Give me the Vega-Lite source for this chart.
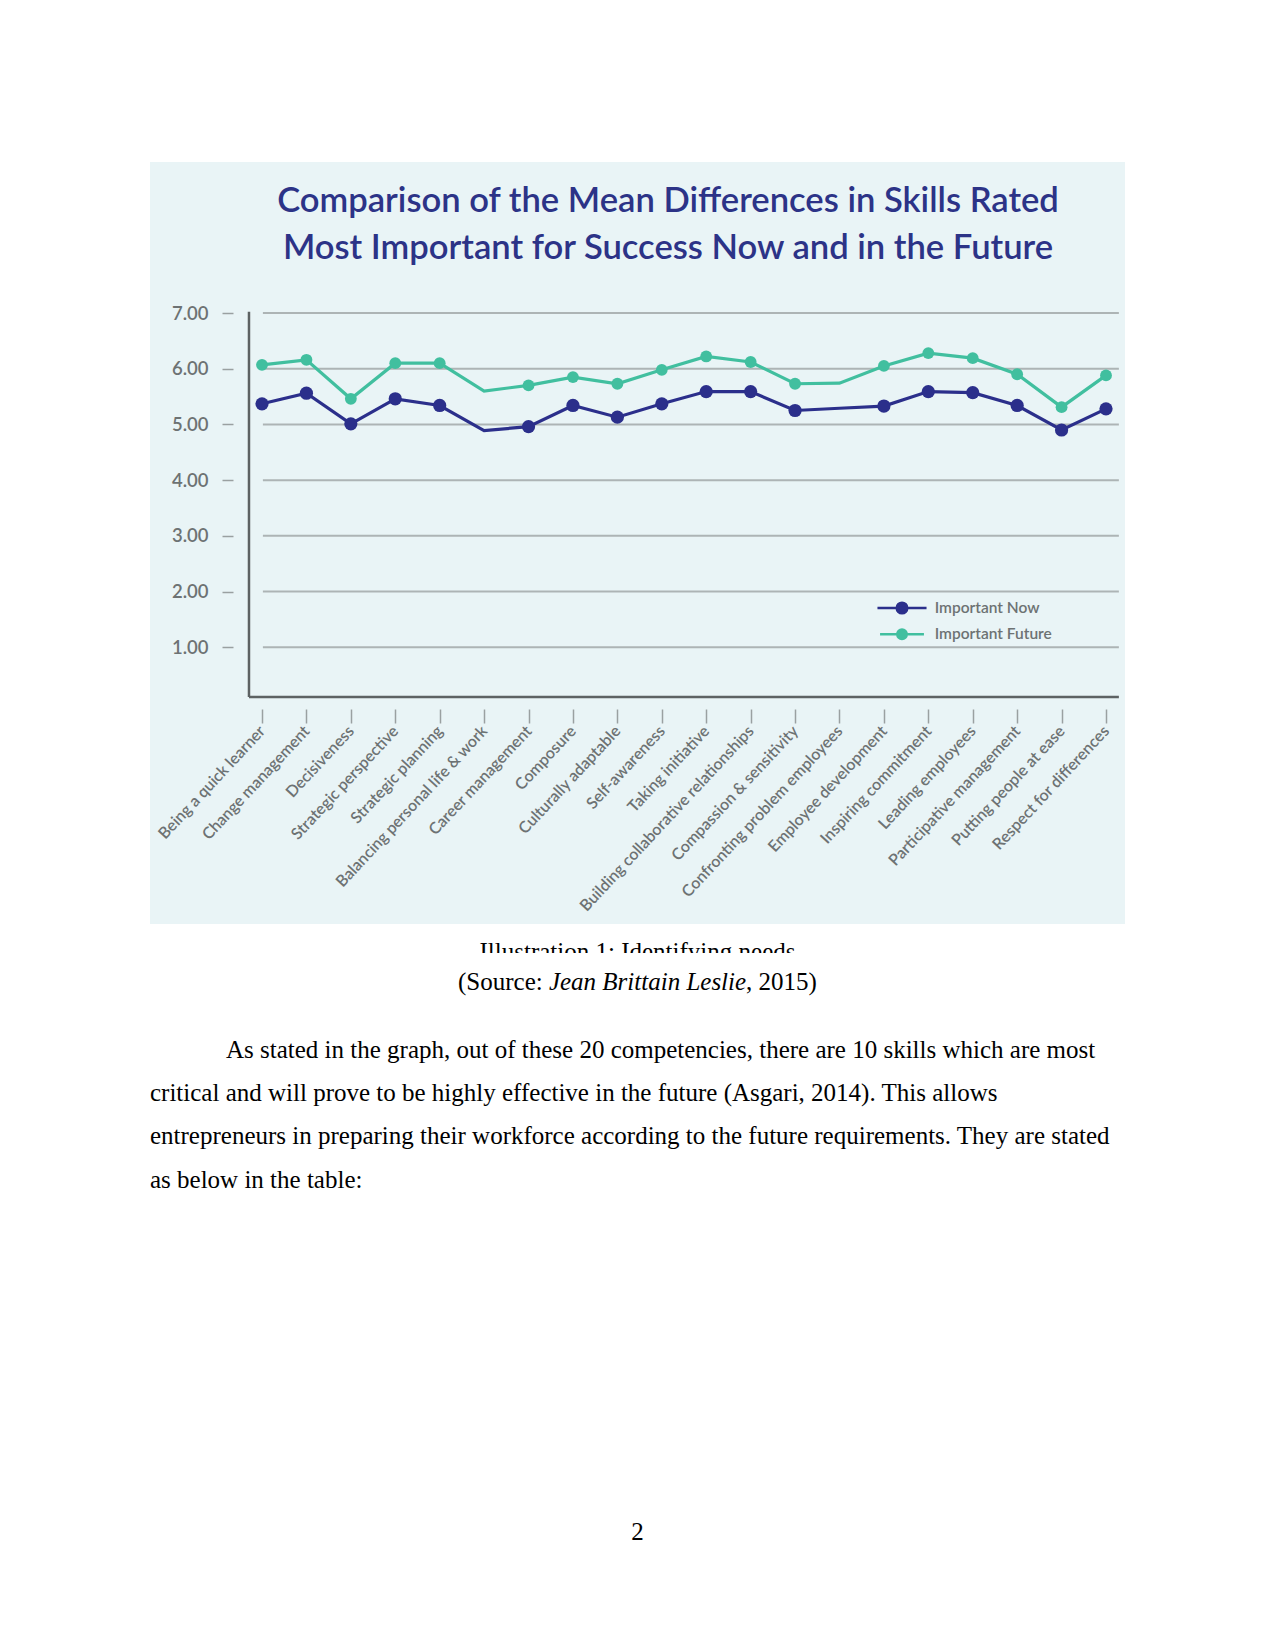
{
  "$schema": "https://vega.github.io/schema/vega-lite/v6.json",
  "background": "white",
  "padding": {"left": 150, "top": 162, "right": 0, "bottom": 0},
  "autosize": {"type": "pad"},
  "bounds": "flush",
  "spacing": 0,
  "config": {"view": {"stroke": null}},
  "datasets": {
    "grid": [{"v": 1}, {"v": 2}, {"v": 3}, {"v": 4}, {"v": 5}, {"v": 6}, {"v": 7}],
    "frame": [{"part": "axis"}],
    "skills": [
      {"skill": "Being a quick learner", "series": "Important Now", "value": 5.37},
      {"skill": "Being a quick learner", "series": "Important Future", "value": 6.07},
      {"skill": "Change management", "series": "Important Now", "value": 5.56},
      {"skill": "Change management", "series": "Important Future", "value": 6.16},
      {"skill": "Decisiveness", "series": "Important Now", "value": 5.01},
      {"skill": "Decisiveness", "series": "Important Future", "value": 5.46},
      {"skill": "Strategic perspective", "series": "Important Now", "value": 5.46},
      {"skill": "Strategic perspective", "series": "Important Future", "value": 6.10},
      {"skill": "Strategic planning", "series": "Important Now", "value": 5.34},
      {"skill": "Strategic planning", "series": "Important Future", "value": 6.10},
      {"skill": "Balancing personal life & work", "series": "Important Now", "value": 4.89},
      {"skill": "Balancing personal life & work", "series": "Important Future", "value": 5.60},
      {"skill": "Career management", "series": "Important Now", "value": 4.96},
      {"skill": "Career management", "series": "Important Future", "value": 5.70},
      {"skill": "Composure", "series": "Important Now", "value": 5.34},
      {"skill": "Composure", "series": "Important Future", "value": 5.85},
      {"skill": "Culturally adaptable", "series": "Important Now", "value": 5.13},
      {"skill": "Culturally adaptable", "series": "Important Future", "value": 5.73},
      {"skill": "Self-awareness", "series": "Important Now", "value": 5.37},
      {"skill": "Self-awareness", "series": "Important Future", "value": 5.98},
      {"skill": "Taking initiative", "series": "Important Now", "value": 5.59},
      {"skill": "Taking initiative", "series": "Important Future", "value": 6.22},
      {"skill": "Building collaborative relationships", "series": "Important Now", "value": 5.59},
      {"skill": "Building collaborative relationships", "series": "Important Future", "value": 6.12},
      {"skill": "Compassion & sensitivity", "series": "Important Now", "value": 5.25},
      {"skill": "Compassion & sensitivity", "series": "Important Future", "value": 5.73},
      {"skill": "Confronting problem employees", "series": "Important Now", "value": 5.29},
      {"skill": "Confronting problem employees", "series": "Important Future", "value": 5.74},
      {"skill": "Employee development", "series": "Important Now", "value": 5.33},
      {"skill": "Employee development", "series": "Important Future", "value": 6.05},
      {"skill": "Inspiring commitment", "series": "Important Now", "value": 5.59},
      {"skill": "Inspiring commitment", "series": "Important Future", "value": 6.28},
      {"skill": "Leading employees", "series": "Important Now", "value": 5.57},
      {"skill": "Leading employees", "series": "Important Future", "value": 6.19},
      {"skill": "Participative management", "series": "Important Now", "value": 5.34},
      {"skill": "Participative management", "series": "Important Future", "value": 5.90},
      {"skill": "Putting people at ease", "series": "Important Now", "value": 4.90},
      {"skill": "Putting people at ease", "series": "Important Future", "value": 5.31},
      {"skill": "Respect for differences", "series": "Important Now", "value": 5.28},
      {"skill": "Respect for differences", "series": "Important Future", "value": 5.88}
    ],
    "source": [
      {"part": "lead", "text": "(Source:"},
      {"part": "author", "text": "Jean Brittain Leslie"},
      {"part": "year", "text": ", 2015)"}
    ],
    "paragraph": [
      {"line": 1, "text": "As stated in the graph, out of these 20 competencies, there are 10 skills which are most"},
      {"line": 2, "text": "critical and will prove to be highly effective in the future (Asgari, 2014). This allows"},
      {"line": 3, "text": "entrepreneurs in preparing their workforce according to the future requirements. They are stated"},
      {"line": 4, "text": "as below in the table:"}
    ]
  },
  "vconcat": [
    {
      "width": 975,
      "height": 762,
      "view": {"fill": "#e9f4f6", "stroke": null},
      "title": {
        "text": ["Comparison of the Mean Differences in Skills Rated", "Most Important for Success Now and in the Future"],
        "orient": "top",
        "anchor": "middle",
        "frame": "group",
        "offset": -131.5,
        "dx": 30.5,
        "baseline": "alphabetic",
        "lineHeight": 46.5,
        "font": "Lato",
        "fontSize": 34.6,
        "fontWeight": 600,
        "color": "#2c3387"
      },
      "resolve": {"scale": {"x": "independent"}, "axis": {"x": "independent"}},
      "layer": [
        {
          "data": {"name": "grid"},
          "mark": {"type": "rule", "color": "#adb4b5", "strokeWidth": 2},
          "encoding": {
            "x": {"datum": 1.02, "type": "quantitative", "scale": {"domain": [1, 20], "range": [112, 956], "nice": false, "zero": false}, "axis": null},
            "x2": {"datum": 20.29},
            "y": {"field": "v", "type": "quantitative", "scale": {"domain": [0, 7], "range": [541, 151], "nice": false, "zero": false},
                  "axis": {"orient": "left", "offset": -83, "values": [1, 2, 3, 4, 5, 6, 7], "format": ".2f", "title": null, "domain": false, "grid": false, "ticks": true, "tickSize": 11, "tickColor": "#9aa0a1", "tickWidth": 1.5, "labelPadding": 14, "labelFont": "Lato", "labelFontSize": 18.5, "labelFontWeight": 600, "labelColor": "#6d7273"}}
          }
        },
        {
          "data": {"name": "frame"},
          "mark": {"type": "rule", "color": "#5d6263", "strokeWidth": 2.5},
          "encoding": {
            "x": {"datum": 0.707, "type": "quantitative", "scale": {"domain": [1, 20], "range": [112, 956], "nice": false, "zero": false}, "axis": null},
            "y": {"datum": 0.108, "type": "quantitative", "scale": {"domain": [0, 7], "range": [541, 151], "nice": false, "zero": false},
                  "axis": {"orient": "left", "offset": -83, "values": [1, 2, 3, 4, 5, 6, 7], "format": ".2f", "title": null, "domain": false, "grid": false, "ticks": true, "tickSize": 11, "tickColor": "#9aa0a1", "tickWidth": 1.5, "labelPadding": 14, "labelFont": "Lato", "labelFontSize": 18.5, "labelFontWeight": 600, "labelColor": "#6d7273"}},
            "y2": {"datum": 7.023}
          }
        },
        {
          "data": {"name": "frame"},
          "mark": {"type": "rule", "color": "#5d6263", "strokeWidth": 2.5},
          "encoding": {
            "x": {"datum": 0.707, "type": "quantitative", "scale": {"domain": [1, 20], "range": [112, 956], "nice": false, "zero": false}, "axis": null},
            "x2": {"datum": 20.29},
            "y": {"datum": 0.108, "type": "quantitative", "scale": {"domain": [0, 7], "range": [541, 151], "nice": false, "zero": false},
                  "axis": {"orient": "left", "offset": -83, "values": [1, 2, 3, 4, 5, 6, 7], "format": ".2f", "title": null, "domain": false, "grid": false, "ticks": true, "tickSize": 11, "tickColor": "#9aa0a1", "tickWidth": 1.5, "labelPadding": 14, "labelFont": "Lato", "labelFontSize": 18.5, "labelFontWeight": 600, "labelColor": "#6d7273"}}
          }
        },
        {
          "data": {"name": "skills"},
          "mark": {"type": "line", "strokeWidth": 3.2},
          "encoding": {
            "x": {"field": "skill", "type": "nominal",
                  "scale": {"type": "point", "domain": ["Being a quick learner", "Change management", "Decisiveness", "Strategic perspective", "Strategic planning", "Balancing personal life & work", "Career management", "Composure", "Culturally adaptable", "Self-awareness", "Taking initiative", "Building collaborative relationships", "Compassion & sensitivity", "Confronting problem employees", "Employee development", "Inspiring commitment", "Leading employees", "Participative management", "Putting people at ease", "Respect for differences"], "range": [112, 956], "padding": 0},
                  "axis": {"orient": "bottom", "offset": -215, "title": null, "domain": false, "grid": false, "ticks": true, "tickSize": 14, "tickColor": "#9aa0a1", "tickWidth": 1.5, "labelAngle": -47, "labelFont": "Lato", "labelFontSize": 16, "labelFontWeight": 600, "labelColor": "#6d7273", "labelPadding": 5, "labelLimit": 0, "labelOverlap": false, "labelBound": false, "labelFlush": false}},
            "y": {"field": "value", "type": "quantitative", "scale": {"domain": [0, 7], "range": [541, 151], "nice": false, "zero": false},
                  "axis": {"orient": "left", "offset": -83, "values": [1, 2, 3, 4, 5, 6, 7], "format": ".2f", "title": null, "domain": false, "grid": false, "ticks": true, "tickSize": 11, "tickColor": "#9aa0a1", "tickWidth": 1.5, "labelPadding": 14, "labelFont": "Lato", "labelFontSize": 18.5, "labelFontWeight": 600, "labelColor": "#6d7273"}},
            "color": {"field": "series", "type": "nominal",
                      "scale": {"domain": ["Important Now", "Important Future"], "range": ["#2b2f8b", "#41bf9f"]},
                      "legend": {"orient": "none", "legendX": 744, "legendY": 438, "title": null, "padding": 0, "symbolType": "M-3.71,0H3.71M-0.8,0A0.8,0.8,0,1,1,0.8,0A0.8,0.8,0,1,1,-0.8,0Z", "symbolSize": 196, "symbolStrokeWidth": 2.5, "labelFont": "Lato", "labelFontSize": 15.5, "labelFontWeight": 600, "labelColor": "#6d7273", "labelOffset": 24.7, "rowPadding": 5.4,
                                 "encode": {"symbols": {"update": {"fill": {"scale": "color", "field": "value"}, "stroke": {"scale": "color", "field": "value"}, "opacity": {"value": 1}}}}}}
          }
        },
        {
          "data": {"name": "skills"},
          "transform": [{"filter": "datum.skill !== 'Balancing personal life & work' && datum.skill !== 'Confronting problem employees'"}],
          "mark": {"type": "circle", "opacity": 1},
          "encoding": {
            "x": {"field": "skill", "type": "nominal",
                  "scale": {"type": "point", "domain": ["Being a quick learner", "Change management", "Decisiveness", "Strategic perspective", "Strategic planning", "Balancing personal life & work", "Career management", "Composure", "Culturally adaptable", "Self-awareness", "Taking initiative", "Building collaborative relationships", "Compassion & sensitivity", "Confronting problem employees", "Employee development", "Inspiring commitment", "Leading employees", "Participative management", "Putting people at ease", "Respect for differences"], "range": [112, 956], "padding": 0},
                  "axis": null},
            "y": {"field": "value", "type": "quantitative", "scale": {"domain": [0, 7], "range": [541, 151], "nice": false, "zero": false},
                  "axis": {"orient": "left", "offset": -83, "values": [1, 2, 3, 4, 5, 6, 7], "format": ".2f", "title": null, "domain": false, "grid": false, "ticks": true, "tickSize": 11, "tickColor": "#9aa0a1", "tickWidth": 1.5, "labelPadding": 14, "labelFont": "Lato", "labelFontSize": 18.5, "labelFontWeight": 600, "labelColor": "#6d7273"}},
            "color": {"field": "series", "type": "nominal",
                      "scale": {"domain": ["Important Now", "Important Future"], "range": ["#2b2f8b", "#41bf9f"]},
                      "legend": {"orient": "none", "legendX": 744, "legendY": 438, "title": null, "padding": 0, "symbolType": "M-3.71,0H3.71M-0.8,0A0.8,0.8,0,1,1,0.8,0A0.8,0.8,0,1,1,-0.8,0Z", "symbolSize": 196, "symbolStrokeWidth": 2.5, "labelFont": "Lato", "labelFontSize": 15.5, "labelFontWeight": 600, "labelColor": "#6d7273", "labelOffset": 24.7, "rowPadding": 5.4,
                                 "encode": {"symbols": {"update": {"fill": {"scale": "color", "field": "value"}, "stroke": {"scale": "color", "field": "value"}, "opacity": {"value": 1}}}}}},
            "size": {"field": "series", "type": "nominal", "scale": {"domain": ["Important Now", "Important Future"], "range": [175, 140]}, "legend": null}
          }
        }
      ]
    },
    {
      "width": 975,
      "height": 29,
      "data": {"values": [{"text": "Illustration 1: Identifying needs"}]},
      "mark": {"type": "text", "clip": true, "font": "Liberation Serif", "fontSize": 25, "baseline": "alphabetic", "dy": 21.5, "color": "#000000"},
      "encoding": {"text": {"field": "text", "type": "nominal"}}
    },
    {
      "width": 975,
      "height": 74,
      "data": {"name": "source"},
      "layer": [
        {
          "transform": [{"filter": "datum.part === 'lead'"}],
          "mark": {"type": "text", "font": "Liberation Serif", "fontSize": 25, "baseline": "alphabetic", "align": "right", "dx": -94.8, "color": "#000000"},
          "encoding": {"text": {"field": "text", "type": "nominal"}}
        },
        {
          "transform": [{"filter": "datum.part === 'author'"}],
          "mark": {"type": "text", "font": "Liberation Serif", "fontSize": 25, "fontStyle": "italic", "baseline": "alphabetic", "align": "left", "dx": -88.6, "color": "#000000"},
          "encoding": {"text": {"field": "text", "type": "nominal"}}
        },
        {
          "transform": [{"filter": "datum.part === 'year'"}],
          "mark": {"type": "text", "font": "Liberation Serif", "fontSize": 25, "baseline": "alphabetic", "align": "left", "dx": 108.6, "color": "#000000"},
          "encoding": {"text": {"field": "text", "type": "nominal"}}
        }
      ]
    },
    {
      "width": 975,
      "height": 191.2,
      "data": {"name": "paragraph"},
      "encoding": {
        "x": {"datum": 0, "type": "quantitative", "scale": {"domain": [0, 1]}, "axis": null},
        "y": {"field": "line", "type": "ordinal", "scale": {"type": "point", "padding": 0.703}, "axis": null},
        "text": {"field": "text", "type": "nominal"}
      },
      "layer": [
        {
          "transform": [{"filter": "datum.line === 1"}],
          "mark": {"type": "text", "font": "Liberation Serif", "fontSize": 25, "baseline": "alphabetic", "align": "left", "dx": 76, "color": "#000000"}
        },
        {
          "transform": [{"filter": "datum.line !== 1"}],
          "mark": {"type": "text", "font": "Liberation Serif", "fontSize": 25, "baseline": "alphabetic", "align": "left", "color": "#000000"}
        }
      ]
    },
    {
      "width": 975,
      "height": 400,
      "data": {"values": [{"page": "2"}]},
      "mark": {"type": "text", "font": "Liberation Serif", "fontSize": 25, "baseline": "alphabetic", "dy": 120.8, "color": "#000000"},
      "encoding": {"text": {"field": "page", "type": "nominal"}}
    }
  ]
}
